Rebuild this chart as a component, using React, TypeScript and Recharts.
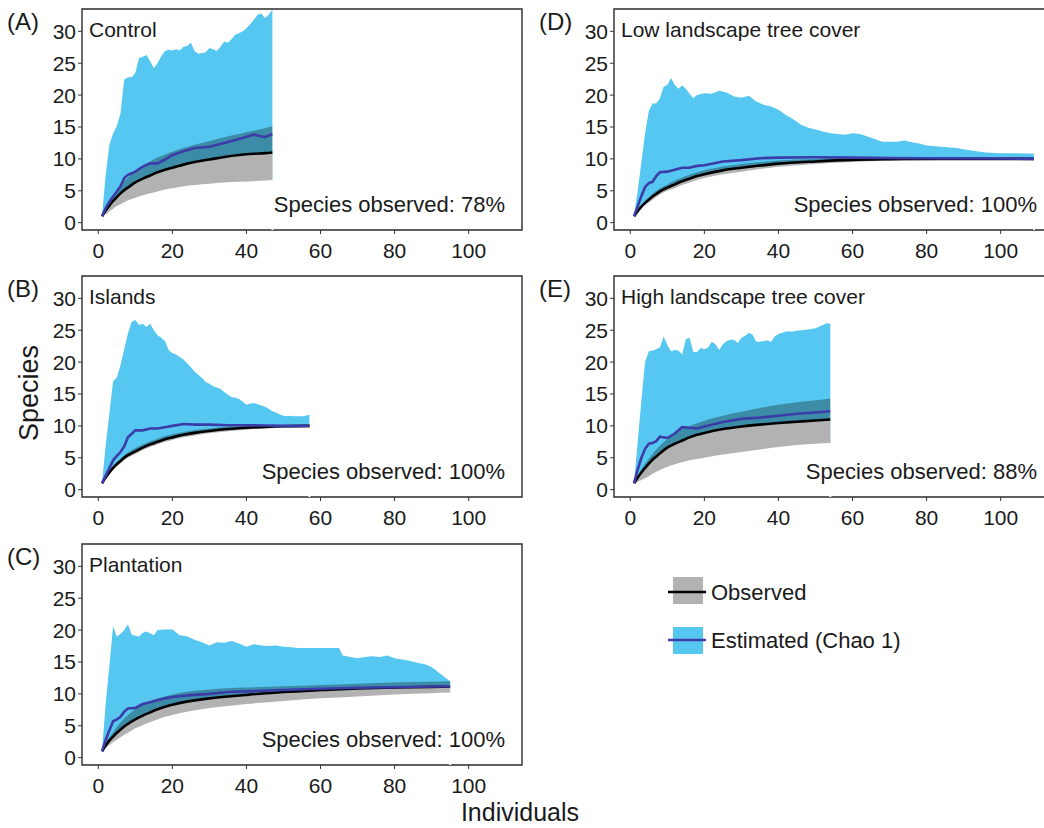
import React from "react";
import { ComposedChart, Area, Line, XAxis, YAxis, ReferenceArea, ReferenceLine } from "recharts";

const FONT = "'Liberation Sans', Arial, Helvetica, sans-serif";
const BAND_BLUE = "#56c7f0";
const EST_BLUE = "#3c3ca8";

const xTicks = [0, 20, 40, 60, 80, 100];
const yTicks = [0, 5, 10, 15, 20, 25, 30];
const X_DOMAIN: [number, number] = [-4.4, 114.4];
const Y_DOMAIN: [number, number] = [-1.15, 33.5];

// (A) Control
const controlUpX = [1, 2, 3, 4, 5, 6, 7, 8, 9, 10, 11, 12, 13, 14, 15, 16, 17, 18, 19, 20, 21, 22, 23, 24, 25, 26, 27, 28, 29, 30, 31, 32, 33, 34, 35, 36, 37, 38, 39, 40, 41, 42, 43, 44, 45, 46, 47];
const controlUp = [1, 7.5, 12.2, 14.0, 15.1, 17.2, 22.4, 22.8, 22.8, 23.5, 25.8, 26.0, 26.3, 25.3, 24.2, 25.0, 26.1, 26.9, 27.1, 27.0, 27.2, 27.0, 27.6, 27.7, 28.2, 26.9, 26.5, 26.6, 26.7, 27.4, 27.2, 26.9, 27.6, 28.4, 28.2, 28.8, 29.5, 29.7, 30.0, 30.5, 31.1, 31.8, 32.6, 32.8, 32.1, 32.6, 33.4];
const controlX = [1, 2, 3, 4, 5, 6, 7, 8, 10, 12, 14, 16, 18, 20, 23, 26, 30, 34, 38, 42, 45, 47];
const controlObsLo = [1.0, 1.3, 1.8, 2.2, 2.6, 2.9, 3.2, 3.5, 3.9, 4.3, 4.6, 4.9, 5.2, 5.4, 5.7, 5.9, 6.1, 6.3, 6.4, 6.5, 6.6, 6.7];
const controlObs = [1.0, 1.9, 2.7, 3.4, 4.0, 4.6, 5.1, 5.5, 6.3, 6.9, 7.4, 7.9, 8.3, 8.6, 9.1, 9.5, 9.9, 10.3, 10.6, 10.8, 10.9, 11.0];
const controlObsHi = [1.0, 2.3, 3.4, 4.3, 5.1, 5.8, 6.5, 7.1, 8.1, 8.9, 9.6, 10.2, 10.7, 11.1, 11.7, 12.2, 12.8, 13.4, 13.9, 14.4, 14.8, 15.1];
const controlEst = [1.0, 2.3, 3.3, 4.1, 4.9, 5.7, 7.0, 7.5, 8.0, 8.8, 9.3, 9.3, 9.9, 10.6, 11.2, 11.7, 11.9, 12.5, 13.1, 13.8, 13.4, 13.9];

// (B) Islands
const islandsUpX = [1, 2, 3, 4, 5, 6, 7, 8, 9, 10, 11, 12, 13, 14, 15, 16, 17, 18, 19, 20, 21, 22, 23, 24, 25, 26, 27, 28, 29, 30, 31, 32, 33, 34, 35, 36, 37, 38, 39, 40, 41, 42, 43, 44, 45, 46, 47, 48, 49, 50, 51, 52, 53, 54, 55, 56, 57];
const islandsUp = [1.0, 7.0, 12.0, 17.0, 17.6, 19.5, 22.0, 24.5, 26.3, 26.6, 25.8, 26.0, 25.5, 26.0, 25.0, 24.2, 23.8, 23.3, 21.9, 21.4, 21.2, 20.8, 20.4, 19.8, 19.2, 18.5, 18.0, 17.5, 16.9, 16.6, 16.2, 16.0, 15.8, 15.3, 14.9, 14.5, 14.4, 14.2, 13.8, 13.3, 13.5, 13.6, 13.4, 13.2, 13.0, 12.7, 12.3, 12.1, 11.8, 11.6, 11.5, 11.6, 11.5, 11.5, 11.5, 11.6, 11.8];
const islandsX = [1, 2, 3, 4, 5, 6, 7, 8, 10, 12, 14, 16, 18, 20, 23, 26, 30, 35, 40, 45, 50, 57];
const islandsObsLo = [1.0, 1.75, 2.45, 3.1, 3.65, 4.1, 4.6, 5.0, 5.6, 6.2, 6.7, 7.1, 7.5, 7.8, 8.2, 8.5, 8.85, 9.15, 9.4, 9.6, 9.75, 9.8];
const islandsObs = [1.0, 1.9, 2.7, 3.4, 4.0, 4.5, 5.0, 5.4, 6.0, 6.6, 7.1, 7.5, 7.9, 8.2, 8.6, 8.9, 9.2, 9.5, 9.7, 9.85, 9.95, 10.0];
const islandsObsHi = [1.0, 2.05, 2.95, 3.7, 4.35, 4.9, 5.4, 5.85, 6.5, 7.1, 7.6, 8.0, 8.4, 8.7, 9.05, 9.35, 9.6, 9.85, 10.0, 10.1, 10.15, 10.2];
const islandsEst = [1.0, 2.2, 3.4, 4.6, 5.3, 5.9, 6.8, 8.2, 9.3, 9.3, 9.6, 9.6, 9.8, 10.0, 10.3, 10.2, 10.2, 10.1, 10.1, 10.05, 10.0, 10.0];

// (C) Plantation
const plantationUpX = [1, 2, 3, 4, 5, 6, 7, 8, 9, 10, 11, 12, 13, 14, 15, 16, 18, 20, 22, 24, 26, 28, 30, 32, 34, 36, 38, 40, 42, 44, 46, 48, 50, 52, 54, 56, 58, 60, 62, 64, 65, 66, 68, 70, 72, 74, 76, 78, 80, 82, 84, 86, 88, 90, 92, 94, 95];
const plantationUp = [1.0, 8.5, 14.5, 20.6, 19.0, 19.4, 20.0, 20.9, 19.3, 19.1, 19.0, 19.6, 19.8, 19.5, 19.2, 20.0, 20.1, 20.1, 19.2, 19.0, 18.5, 18.1, 17.6, 18.1, 18.0, 18.3, 17.9, 17.4, 17.8, 17.6, 17.5, 17.6, 17.4, 17.3, 17.2, 17.2, 17.2, 17.2, 17.2, 17.2, 17.2, 16.0, 15.8, 15.6, 15.8, 15.9, 15.8, 16.0, 15.6, 15.4, 15.2, 14.9, 14.7, 14.2, 13.3, 12.4, 12.0];
const plantationX = [1, 2, 3, 4, 5, 6, 7, 8, 10, 12, 14, 16, 18, 20, 25, 30, 35, 40, 50, 60, 70, 80, 90, 95];
const plantationObsLo = [1, 1.5, 2.0, 2.4, 2.8, 3.2, 3.6, 3.9, 4.6, 5.1, 5.6, 6.0, 6.4, 6.7, 7.3, 7.8, 8.1, 8.4, 8.9, 9.3, 9.6, 9.9, 10.1, 10.2];
const plantationObs = [1, 1.9, 2.7, 3.3, 3.9, 4.4, 4.9, 5.3, 6.0, 6.6, 7.1, 7.6, 8.0, 8.3, 8.9, 9.3, 9.6, 9.85, 10.3, 10.6, 10.85, 11.0, 11.1, 11.15];
const plantationObsHi = [1, 2.2, 3.2, 4.0, 4.8, 5.5, 6.1, 6.7, 7.6, 8.3, 8.9, 9.3, 9.6, 9.9, 10.4, 10.7, 10.9, 11.0, 11.2, 11.4, 11.6, 11.8, 11.9, 12.0];
const plantationEst = [1, 2.8, 4.3, 5.7, 6.0, 6.4, 7.2, 7.7, 7.8, 8.4, 8.7, 9.0, 9.3, 9.5, 9.8, 10.0, 10.3, 10.4, 10.6, 10.8, 10.95, 11.05, 11.15, 11.2];

// (D) Low landscape tree cover
const lowUpX = [1, 2, 3, 4, 5, 6, 7, 8, 9, 10, 11, 12, 13, 14, 15, 16, 17, 18, 20, 22, 24, 26, 28, 30, 32, 34, 36, 38, 40, 42, 44, 46, 48, 50, 52, 54, 56, 58, 60, 62, 64, 66, 68, 70, 72, 74, 76, 78, 80, 84, 88, 92, 96, 100, 104, 109];
const lowUp = [1, 5.0, 9.5, 14.0, 17.5, 18.7, 18.7, 19.5, 21.3, 21.6, 22.7, 21.6, 21.0, 21.5, 21.0, 20.2, 19.5, 20.0, 20.3, 20.2, 20.7, 20.4, 19.8, 19.6, 19.9, 19.0, 18.5, 18.2, 17.7, 16.9, 16.2, 15.4, 14.9, 14.6, 14.3, 14.0, 13.9, 13.8, 14.0, 13.9, 13.5, 13.1, 12.7, 12.7, 12.7, 12.9, 12.6, 12.4, 12.1, 11.9, 11.7, 11.3, 11.0, 10.9, 10.9, 10.8];
const lowX = [1, 2, 3, 4, 5, 6, 7, 8, 10, 12, 14, 16, 18, 20, 25, 30, 35, 40, 50, 60, 70, 80, 100, 109];
const lowObsLo = [1, 1.6, 2.2, 2.8, 3.2, 3.6, 4.0, 4.4, 5.0, 5.4, 5.9, 6.3, 6.7, 7.0, 7.6, 8.0, 8.4, 8.75, 9.2, 9.5, 9.7, 9.8, 9.95, 9.95];
const lowObs = [1, 1.8, 2.5, 3.1, 3.6, 4.1, 4.5, 4.9, 5.5, 6.0, 6.5, 6.9, 7.3, 7.6, 8.2, 8.6, 8.95, 9.25, 9.6, 9.85, 9.95, 10.0, 10.0, 10.0];
const lowObsHi = [1, 2.0, 2.8, 3.4, 4.0, 4.5, 5.0, 5.4, 6.0, 6.6, 7.1, 7.5, 7.9, 8.2, 8.8, 9.2, 9.5, 9.75, 10.0, 10.1, 10.15, 10.15, 10.1, 10.05];
const lowEst = [1, 2.6, 4.2, 5.6, 6.2, 6.4, 7.3, 7.9, 8.0, 8.3, 8.6, 8.6, 8.9, 9.0, 9.6, 9.8, 10.1, 10.2, 10.25, 10.2, 10.15, 10.1, 10.05, 10.0];

// (E) High landscape tree cover
const highUpX = [1, 2, 3, 4, 5, 6, 7, 8, 9, 10, 11, 12, 13, 14, 15, 16, 17, 18, 19, 20, 21, 22, 23, 24, 25, 26, 27, 28, 29, 30, 31, 32, 33, 34, 35, 36, 37, 38, 39, 40, 42, 44, 46, 48, 50, 52, 53, 54];
const highUp = [1, 7.5, 14.0, 20.0, 21.7, 21.8, 22.0, 22.3, 24.0, 22.7, 21.7, 21.9, 21.8, 21.2, 23.6, 23.8, 21.6, 21.6, 22.2, 22.0, 22.3, 23.2, 22.8, 21.9, 22.8, 23.3, 23.5, 23.5, 23.0, 23.8, 24.1, 24.6, 24.3, 23.2, 23.2, 23.3, 23.4, 23.2, 24.0, 24.4, 24.8, 24.8, 25.0, 25.1, 25.3, 25.8, 26.1, 26.0];
const highX = [1, 2, 3, 4, 5, 6, 7, 8, 10, 12, 14, 16, 18, 20, 25, 30, 35, 40, 45, 50, 54];
const highObsLo = [1, 1.2, 1.5, 1.8, 2.1, 2.5, 2.8, 3.1, 3.6, 4.0, 4.3, 4.6, 4.8, 5.0, 5.5, 5.9, 6.3, 6.7, 7.0, 7.2, 7.3];
const highObs = [1, 1.9, 2.7, 3.4, 4.1, 4.7, 5.2, 5.7, 6.6, 7.2, 7.7, 8.2, 8.6, 8.9, 9.5, 9.9, 10.2, 10.45, 10.65, 10.85, 11.0];
const highObsHi = [1, 2.2, 3.2, 4.1, 4.9, 5.6, 6.3, 6.9, 7.9, 8.8, 9.5, 10.0, 10.4, 10.8, 11.6, 12.2, 12.8, 13.3, 13.7, 14.0, 14.3];
const highEst = [1, 3.2, 5.0, 6.4, 7.2, 7.3, 7.6, 8.3, 8.1, 8.8, 9.8, 9.7, 9.6, 9.9, 10.6, 11.1, 11.3, 11.6, 11.9, 12.1, 12.3];

type Panel = {
  letter: string;
  title: string;
  observed: string;
  left: number;
  top: number;
  upX: number[];
  up: number[];
  curveX: number[];
  obsLo: number[];
  obs: number[];
  obsHi: number[];
  est: number[];
};

const COL = [0, 532];
const ROW = [0, 267, 535];

const panels: Panel[] = [
  { letter: "(A)", title: "Control", observed: "78%", left: COL[0], top: ROW[0], upX: controlUpX, up: controlUp, curveX: controlX, obsLo: controlObsLo, obs: controlObs, obsHi: controlObsHi, est: controlEst },
  { letter: "(B)", title: "Islands", observed: "100%", left: COL[0], top: ROW[1], upX: islandsUpX, up: islandsUp, curveX: islandsX, obsLo: islandsObsLo, obs: islandsObs, obsHi: islandsObsHi, est: islandsEst },
  { letter: "(C)", title: "Plantation", observed: "100%", left: COL[0], top: ROW[2], upX: plantationUpX, up: plantationUp, curveX: plantationX, obsLo: plantationObsLo, obs: plantationObs, obsHi: plantationObsHi, est: plantationEst },
  { letter: "(D)", title: "Low landscape tree cover", observed: "100%", left: COL[1], top: ROW[0], upX: lowUpX, up: lowUp, curveX: lowX, obsLo: lowObsLo, obs: lowObs, obsHi: lowObsHi, est: lowEst },
  { letter: "(E)", title: "High landscape tree cover", observed: "88%", left: COL[1], top: ROW[1], upX: highUpX, up: highUp, curveX: highX, obsLo: highObsLo, obs: highObs, obsHi: highObsHi, est: highEst },
];

const tickStyle = { fontSize: 21, fill: "#1a1a1a", fontFamily: FONT };

function RarefactionPanel({ p }: { p: Panel }) {
  const upper = p.upX.map((x, i) => ({ x, hi: p.up[i] }));
  const curve = p.curveX.map((x, i) => ({
    x,
    lo: p.obsLo[i],
    obs: p.obs[i],
    hi: p.obsHi[i],
    est: p.est[i],
  }));
  const lastX = p.curveX[p.curveX.length - 1];
  const lastLo = p.obsLo[p.obsLo.length - 1];

  return (
    <div style={{ position: "absolute", left: p.left, top: p.top }}>
      <ComposedChart width={530} height={266} margin={{ top: 9, right: 8, bottom: 0, left: 0 }}>
        <XAxis
          type="number"
          dataKey="x"
          domain={X_DOMAIN}
          ticks={xTicks}
          interval={0}
          allowDataOverflow
          axisLine={false}
          tickSize={4}
          tickMargin={9}
          height={36}
          tickLine={{ stroke: "#333" }}
          tick={tickStyle}
        />
        <YAxis
          type="number"
          domain={Y_DOMAIN}
          ticks={yTicks}
          interval={0}
          allowDataOverflow
          axisLine={false}
          tickSize={4}
          tickMargin={2}
          width={82}
          tickLine={{ stroke: "#333" }}
          tick={tickStyle}
        />
        {/* Chao 1 interval, upper bound */}
        <Area data={upper} dataKey="hi" type="linear" baseValue={Y_DOMAIN[0]} fill={BAND_BLUE} fillOpacity={1} stroke="none" activeDot={false} isAnimationActive={false} />
        {/* nothing of the Chao 1 band shows below the observed curve */}
        <Area data={curve} dataKey="obs" type="monotone" baseValue={Y_DOMAIN[0]} fill="#ffffff" fillOpacity={1} stroke="none" activeDot={false} isAnimationActive={false} />
        <ReferenceLine
          segment={[{ x: lastX, y: Y_DOMAIN[0] }, { x: lastX, y: lastLo }]}
          stroke="#ffffff"
          strokeWidth={2}
        />
        <Area
          data={curve}
          dataKey={(d: any) => [d.lo, d.hi]}
          type="monotone"
          fill="#000"
          fillOpacity={0.3}
          stroke="none"
          activeDot={false}
          isAnimationActive={false}
        />
        <Line data={curve} dataKey="obs" type="monotone" stroke="#000" strokeWidth={2.6} dot={false} activeDot={false} isAnimationActive={false} />
        <Line data={curve} dataKey="est" type="linear" stroke={EST_BLUE} strokeWidth={2.6} dot={false} activeDot={false} isAnimationActive={false} />
        <ReferenceArea x1={X_DOMAIN[0]} x2={X_DOMAIN[1]} y1={Y_DOMAIN[0]} y2={Y_DOMAIN[1]} fill="none" stroke="#2b2b2b" strokeWidth={1.4} />
      </ComposedChart>
    </div>
  );
}

export default function App() {
  return (
    <div style={{ position: "absolute", left: 0, top: 0, width: 1044, height: 828, overflow: "hidden", background: "#fff" }}>
      {panels.map((p) => (
        <RarefactionPanel key={p.letter} p={p} />
      ))}
      <svg width={1044} height={828} style={{ position: "absolute", left: 0, top: 0, pointerEvents: "none" }}>
        <g fontFamily={FONT} fill="#1a1a1a">
          {panels.map((p) => (
            <g key={p.letter}>
              <text x={p.left + 7} y={p.top + 30} fontSize={24}>{p.letter}</text>
              <text x={p.left + 89} y={p.top + 37} fontSize={21}>{p.title}</text>
              <text x={p.left + 505} y={p.top + 212} fontSize={22} textAnchor="end">
                {`Species observed: ${p.observed}`}
              </text>
            </g>
          ))}
          <text x={29} y={393} fontSize={27} textAnchor="middle" dominantBaseline="central" transform="rotate(-90 29 393)">
            Species
          </text>
          <text x={520} y={821} fontSize={25} textAnchor="middle">Individuals</text>

          {/* legend */}
          <rect x={673} y={577} width={30} height={27} fill="#000" fillOpacity={0.3} />
          <line x1={668} y1={592} x2={706} y2={592} stroke="#000" strokeWidth={2.6} />
          <text x={711} y={600} fontSize={22}>Observed</text>
          <rect x={673} y={627} width={30} height={27} fill={BAND_BLUE} />
          <line x1={668} y1={640} x2={706} y2={640} stroke={EST_BLUE} strokeWidth={2.6} />
          <text x={711} y={648} fontSize={22}>Estimated (Chao 1)</text>
        </g>
      </svg>
    </div>
  );
}
